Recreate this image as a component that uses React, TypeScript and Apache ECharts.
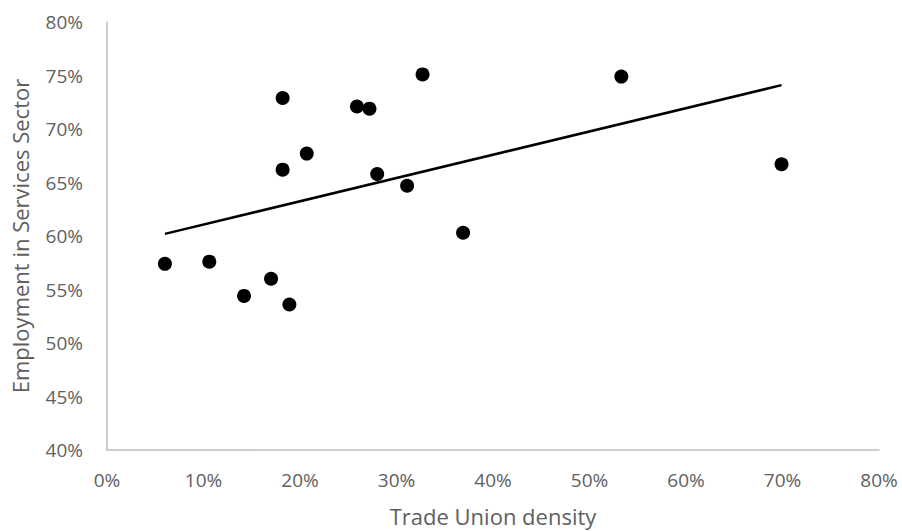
import React, { useEffect, useRef } from "react";
import * as echarts from "echarts";

const unionDensity = [6.0, 10.6, 14.2, 17.0, 18.9, 18.2, 18.2, 20.7, 25.9, 27.2, 32.7, 28.0, 31.1, 36.9, 53.3, 69.9];
const servicesEmployment = [57.4, 57.6, 54.4, 56.0, 53.6, 72.9, 66.2, 67.7, 72.1, 71.9, 75.1, 65.8, 64.7, 60.3, 74.9, 66.7];
const trendX = [6.0, 69.9];
const trendY = [60.2, 74.1];
const xTicks = [0, 80];
const yTicks = [40, 80];

export default function App() {
  const ref = useRef<HTMLDivElement>(null);
  useEffect(() => {
    const chart = echarts.init(ref.current!, null, { renderer: "svg" });
    const font = "'Open Sans', sans-serif";
    const labelColor = "#606060";
    chart.setOption({
      animation: false,
      grid: { left: 107, top: 22, right: 23, bottom: 81, outerBoundsMode: "none", containLabel: false },
      xAxis: {
        type: "value",
        min: xTicks[0],
        max: xTicks[1],
        interval: 10,
        name: "Trade Union density",
        nameLocation: "middle",
        nameGap: 55,
        nameTextStyle: { color: labelColor, fontSize: 22, fontFamily: font },
        axisLine: { show: true, lineStyle: { color: "#bfbfbf", width: 1.5 } },
        axisTick: { show: false },
        splitLine: { show: false },
        axisLabel: { color: labelColor, fontSize: 19, fontFamily: font, margin: 20, formatter: (v: number) => v + "%" },
      },
      yAxis: {
        type: "value",
        min: yTicks[0],
        max: yTicks[1],
        interval: 5,
        name: "Employment in Services Sector",
        nameLocation: "middle",
        nameGap: 76,
        nameTextStyle: { color: labelColor, fontSize: 22, fontFamily: font },
        axisLine: { show: true, lineStyle: { color: "#bfbfbf", width: 1.5 } },
        axisTick: { show: false },
        splitLine: { show: false },
        axisLabel: { color: labelColor, fontSize: 19, fontFamily: font, margin: 24, formatter: (v: number) => v + "%" },
      },
      series: [
        {
          type: "line",
          data: trendX.map((x, i) => [x, trendY[i]]),
          showSymbol: false,
          symbol: "none",
          lineStyle: { color: "#000", width: 2.5 },
          z: 1,
        },
        {
          type: "scatter",
          data: unionDensity.map((x, i) => [x, servicesEmployment[i]]),
          symbolSize: 14,
          itemStyle: { color: "#000", opacity: 1 },
          z: 2,
        },
      ],
    });
    return () => chart.dispose();
  }, []);
  return <div ref={ref} style={{ width: 902, height: 531, position: "absolute", left: 0, top: 0 }} />;
}
